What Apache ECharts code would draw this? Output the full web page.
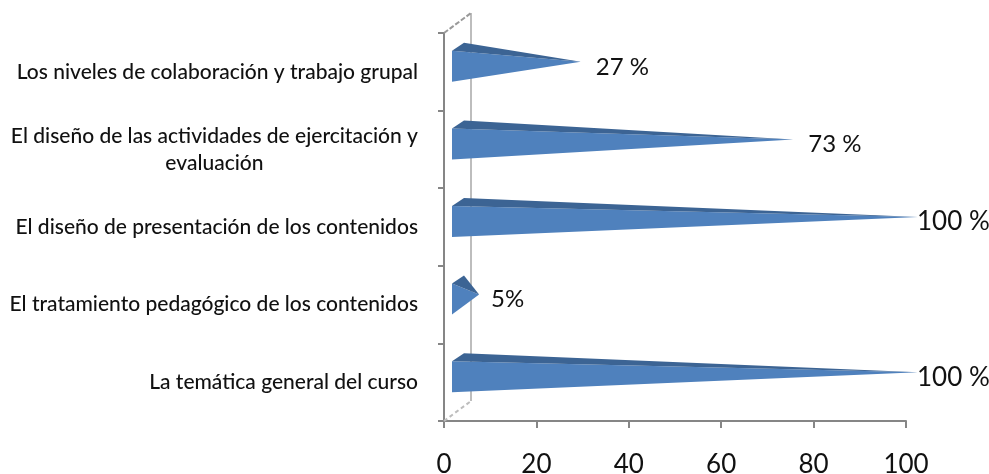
<!DOCTYPE html>
<html>
<head>
<meta charset="utf-8">
<title>chart</title>
<style>
	html,body{margin:0;padding:0;background:#fff;}
	#chart{width:989px;height:474px;}
</style>
<script src="https://cdn.jsdelivr.net/npm/echarts@6/dist/echarts.min.js"></script>
</head>
<body>
<div id="chart"></div>
<script>
// 数据 (bottom to top, as in the picture)
var categories=[
	'La temática general del curso',
	'El tratamiento pedagógico de los contenidos',
	'El diseño de presentación de los contenidos',
	'El diseño de las actividades de ejercitación y\nevaluación',
	'Los niveles de colaboración y trabajo grupal'
];
var values=[100,5,100,73,27];
var valueLabels=['100 %','5%','100 %','73 %','27 %'];
var xTicks=[0,20,40,60,80,100];

var fontName='Lato, "Open Sans", sans-serif';
var chart=echarts.init(document.getElementById('chart'));

// back wall of the 3D box
function renderWall(params,api) {
	var box=params.coordSys;
	var dx=27,dy=-20;
	var left=box.x,top=box.y,bottom=box.y+box.height;
	return {
		type:'group',
		children:[{
			type:'line',
			shape:{x1:left+dx,y1:top+dy,x2:left+dx,y2:bottom+dy},
			style:{stroke:'#bdbdbd',lineWidth:2}
		},{
			type:'line',
			shape:{x1:left,y1:top,x2:left+dx,y2:top+dy},
			style:{stroke:'#9a9a9a',lineWidth:2,lineDash:[5,2]}
		},{
			type:'line',
			shape:{x1:left,y1:bottom,x2:left+dx,y2:bottom+dy},
			style:{stroke:'#bdbdbd',lineWidth:2,lineDash:[4,3]}
		}]
	};
}

// 圆锥 + value label
function renderCone(params,api) {
	var i=api.value(1);
	var zero=api.coord([0,i]);
	var end=api.coord([api.value(0),i]);
	var cy=zero[1];
	var baseX=zero[0]+8;
	var tipX=end[0]+12;
	var tipY=cy-10;
	var isFull=api.value(0)===100;
	return {
		type:'group',
		children:[{
			type:'polygon',
			shape:{points:[[baseX,cy-21],[baseX,cy+10],[tipX,tipY]]},
			style:{fill:'#4f81bd'}
		},{
			type:'polygon',
			shape:{points:[[baseX,cy-21],[baseX+12,cy-29],[tipX,tipY]]},
			style:{fill:'#3c6494'}
		},{
			type:'text',
			style:{
				text:valueLabels[params.dataIndex],
				x:tipX+(isFull ? -1 : (api.value(0)<10 ? 12 : 15)),
				y:cy-5,
				verticalAlign:'middle',
				font:(isFull ? 26 : 24)+'px '+fontName,
				fill:'#111'
			}
		}]
	};
}

var option={
	animation:false,
	backgroundColor:'#fff',
	grid:{left:444,right:83,top:33,bottom:53,outerBoundsMode:'none'},
	xAxis:{
		type:'value',
		min:xTicks[0],
		max:xTicks[xTicks.length-1],
		interval:xTicks[1]-xTicks[0],
		splitLine:{show:false},
		axisLine:{show:true,lineStyle:{color:'#868686',width:2}},
		axisTick:{show:true,length:7,lineStyle:{color:'#868686',width:2}},
		axisLabel:{color:'#111',fontSize:26,fontFamily:fontName,margin:31}
	},
	yAxis:{
		type:'category',
		data:categories,
		axisLine:{show:true,lineStyle:{color:'#868686',width:2}},
		axisTick:{show:true,length:6,lineStyle:{color:'#868686',width:2}},
		axisLabel:{
			color:'#111',
			fontFamily:fontName,
			margin:26,
			align:'right',
			formatter:function(v) {
				return v.split('\n').map(function(l){return '{c|'+l+'}';}).join('\n');
			},
			rich:{c:{align:'center',fontSize:21,fontFamily:fontName,fontWeight:500,color:'#111',lineHeight:27}}
		}
	},
	series:[{
		type:'custom',
		renderItem:renderWall,
		data:[[0,0]],
		encode:{x:0,y:1},
		silent:true,
		z:1
	},{
		type:'custom',
		renderItem:renderCone,
		data:values.map(function(v,i){return [v,i];}),
		encode:{x:0,y:1},
		clip:false,
		z:3
	}]
};
chart.setOption(option);
</script>
</body>
</html>
